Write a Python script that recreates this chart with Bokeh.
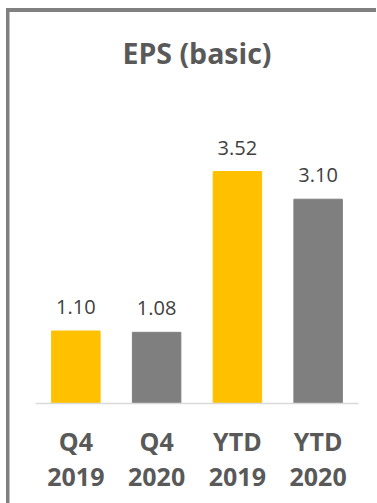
from bokeh.plotting import figure
from bokeh.models import ColumnDataSource, Range1d, LabelSet
from bokeh.core.properties import value
from bokeh.embed import file_html
from bokeh.resources import INLINE

categories = ["Q4\n2019", "Q4\n2020", "YTD\n2019", "YTD\n2020"]
values = [1.10, 1.08, 3.52, 3.10]
colors = ["#FFC000", "#7F7F7F", "#FFC000", "#7F7F7F"]
labels = [f"{v:.2f}" for v in values]

src = ColumnDataSource(dict(cat=categories, val=values, color=colors, lab=labels))

p = figure(x_range=categories, y_range=Range1d(0, 4.78),
           width=377, height=503, output_backend="svg", toolbar_location=None,
           min_border_left=35, min_border_right=19, min_border_top=88, min_border_bottom=100)

p.vbar(x="cat", top="val", width=0.6, color="color", source=src)

lbl = LabelSet(x="cat", y="val", text="lab", source=src, y_offset=17,
               text_align="center", text_baseline="alphabetic",
               text_font=value("Open Sans"), text_font_size="20px", text_color="#404040")
p.add_layout(lbl)

p.title.text = "EPS (basic)"
p.title.align = "center"
p.title.text_font = "Open Sans"
p.title.text_font_size = "28.5px"
p.title.text_font_style = "bold"
p.title.text_color = "#595959"
p.title.standoff = 33
p.title.text_line_height = 0.85

p.yaxis.visible = False
p.xgrid.grid_line_color = None
p.ygrid.grid_line_color = None
p.xaxis.axis_line_color = "#D9D9D9"
p.xaxis.axis_line_width = 1.5
p.xaxis.major_tick_line_color = None
p.xaxis.major_tick_out = 0
p.xaxis.major_tick_in = 0
p.xaxis.major_label_standoff = 20
p.xaxis.major_label_text_font = "Open Sans"
p.xaxis.major_label_text_font_size = "25px"
p.xaxis.major_label_text_font_style = "bold"
p.xaxis.major_label_text_color = "#595959"
p.xaxis.major_label_text_line_height = 1.03

p.outline_line_color = None
p.border_fill_color = None
p.background_fill_color = None
p.styles = {
    "background": "linear-gradient(#808080, #808080) 6px 8px / 3.5px 100% no-repeat, "
                  "linear-gradient(#808080, #808080) 6px 8px / 370px 4px no-repeat, #ffffff"
}

open("out.html", "w").write(file_html(p, INLINE))
